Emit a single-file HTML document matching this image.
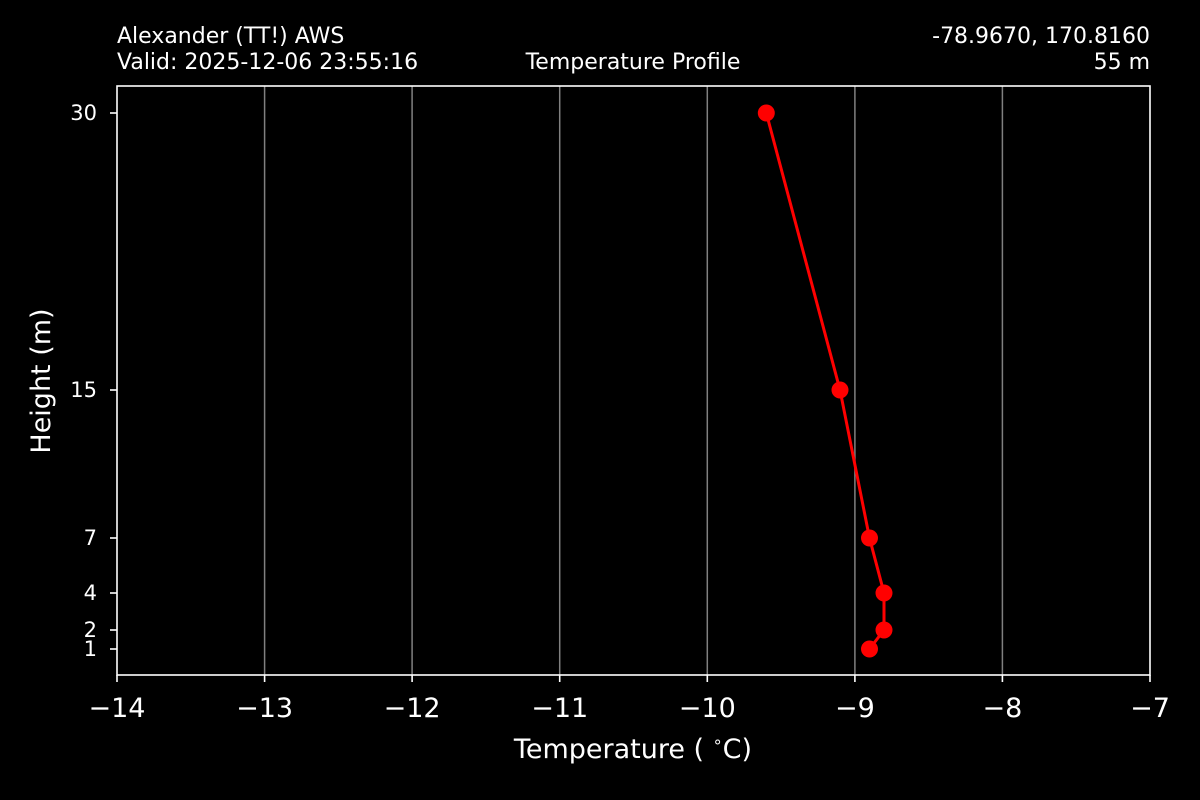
<!DOCTYPE html>
<html><head><style>
html,body{margin:0;padding:0;background:#000;}
svg{display:block;font-family:"DejaVu Sans","Liberation Sans",sans-serif;}
</style></head><body>
<svg width="1200" height="800" viewBox="0 0 1200 800" xmlns="http://www.w3.org/2000/svg">
<rect width="1200" height="800" fill="#000"/>
<g stroke="#808080" stroke-width="1.5">
<line x1="264.6" y1="86" x2="264.6" y2="675"/>
<line x1="412.1" y1="86" x2="412.1" y2="675"/>
<line x1="559.7" y1="86" x2="559.7" y2="675"/>
<line x1="707.3" y1="86" x2="707.3" y2="675"/>
<line x1="854.9" y1="86" x2="854.9" y2="675"/>
<line x1="1002.4" y1="86" x2="1002.4" y2="675"/>
</g>
<rect x="117" y="86" width="1033" height="589" fill="none" stroke="#fff" stroke-width="1.6"/>
<g stroke="#fff" stroke-width="1.6">
<line x1="117" y1="675" x2="117" y2="682"/>
<line x1="264.6" y1="675" x2="264.6" y2="682"/>
<line x1="412.1" y1="675" x2="412.1" y2="682"/>
<line x1="559.7" y1="675" x2="559.7" y2="682"/>
<line x1="707.3" y1="675" x2="707.3" y2="682"/>
<line x1="854.9" y1="675" x2="854.9" y2="682"/>
<line x1="1002.4" y1="675" x2="1002.4" y2="682"/>
<line x1="1150" y1="675" x2="1150" y2="682"/>
<line x1="110" y1="113" x2="117" y2="113"/>
<line x1="110" y1="390" x2="117" y2="390"/>
<line x1="110" y1="538" x2="117" y2="538"/>
<line x1="110" y1="593" x2="117" y2="593"/>
<line x1="110" y1="630" x2="117" y2="630"/>
<line x1="110" y1="649" x2="117" y2="649"/>
</g>
<g fill="#fff" font-size="27" text-anchor="middle">
<text x="117" y="717">−14</text>
<text x="264.6" y="717">−13</text>
<text x="412.1" y="717">−12</text>
<text x="559.7" y="717">−11</text>
<text x="707.3" y="717">−10</text>
<text x="854.9" y="717">−9</text>
<text x="1002.4" y="717">−8</text>
<text x="1150" y="717">−7</text>
<text x="633" y="758" xml:space="preserve">Temperature ( <tspan font-size="16" dy="-11">∘</tspan><tspan dy="11">C)</tspan></text>
</g>
<g fill="#fff" font-size="21" text-anchor="end">
<text x="97" y="120">30</text>
<text x="97" y="397">15</text>
<text x="97" y="545">7</text>
<text x="97" y="600">4</text>
<text x="97" y="637">2</text>
<text x="97" y="656">1</text>
</g>
<text x="50" y="381" fill="#fff" font-size="27" text-anchor="middle" transform="rotate(-90 50 381)">Height (m)</text>
<g fill="#fff" font-size="22">
<text x="117" y="43">Alexander (TT!) AWS</text>
<text x="117" y="69">Valid: 2025-12-06 23:55:16</text>
<text x="633" y="69" text-anchor="middle">Temperature Profile</text>
<text x="1150" y="43" text-anchor="end">-78.9670, 170.8160</text>
<text x="1150" y="69" text-anchor="end">55 m</text>
</g>
<polyline points="766.3,113 840,390 869.5,538 884,593 884,630 869.5,649" fill="none" stroke="#f00" stroke-width="3"/>
<g fill="#f00">
<circle cx="766.3" cy="113" r="8.5"/>
<circle cx="840" cy="390" r="8.5"/>
<circle cx="869.5" cy="538" r="8.5"/>
<circle cx="884" cy="593" r="8.5"/>
<circle cx="884" cy="630" r="8.5"/>
<circle cx="869.5" cy="649" r="8.5"/>
</g>
</svg>
</body></html>
